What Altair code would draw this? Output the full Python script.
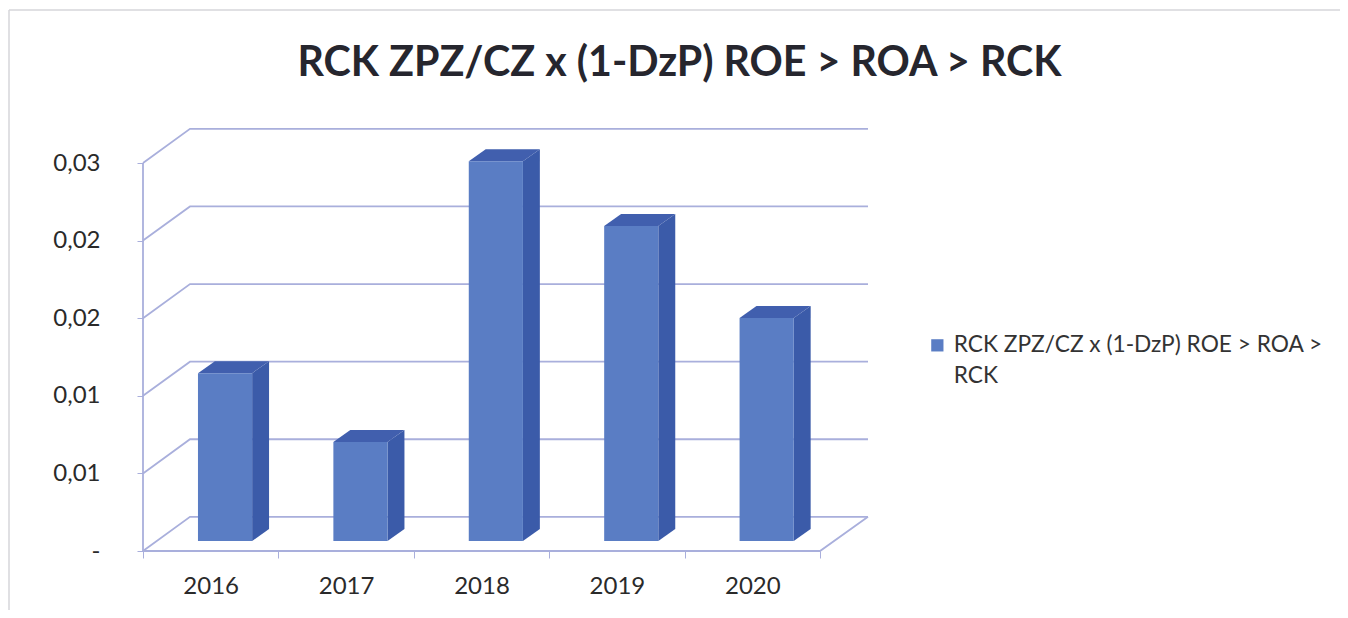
import altair as alt
import pandas as pd

YEARS = ["2016", "2017", "2018", "2019", "2020"]
VALUES = [0.01082, 0.00638, 0.02448, 0.0203, 0.01437]
TICKS = [0, 0.005, 0.01, 0.015, 0.02, 0.025]
TICK_LABELS = ["-\u00a0\u00a0\u00a0", "0,01", "0,01", "0,02", "0,02", "0,03"]
SERIES = "RCK ZPZ/CZ x (1-DzP) ROE > ROA > RCK"
LEGEND_LINES = ["RCK ZPZ/CZ x (1-DzP) ROE > ROA >", "RCK"]

FONT = "Lato"
GRID = "#a9afdc"
FRONT = "#5a7dc4"
SIDE = "#3b5ba9"
TOP = "#415fae"
XMAX = 725 / 135.4
YMAX = 423 / 77.6 * 0.005
DX, DY = 47 / 135.4, 0.0022        # depth of the chart box
BX, BY = 0.106, 0.00064            # where the bars stand on the floor
BW = 0.4                           # bar width
SX, SY = 0.125, 0.00077            # depth of a bar

xs = alt.Scale(domain=[0, XMAX], nice=False, zero=False)
ys = alt.Scale(domain=[0, YMAX], nice=False, zero=False)

# wall / floor lines
grid_rows = []
for k, t in enumerate(TICKS):
    grid_rows += [dict(g=k, x=0, y=t), dict(g=k, x=DX, y=t + DY), dict(g=k, x=XMAX, y=t + DY)]
grid_rows += [dict(g=90, x=0, y=0), dict(g=90, x=5, y=0), dict(g=90, x=XMAX, y=DY)]
grid_rows += [dict(g=91, x=0, y=0), dict(g=91, x=0, y=TICKS[-1])]
grid = pd.DataFrame(grid_rows)

front_rows, side_rows, top_rows = [], [], []
for i, (yr, v) in enumerate(zip(YEARS, VALUES)):
    x0 = i + 0.5 + BX - BW / 2
    x1 = x0 + BW
    y0 = BY
    y1 = BY + v
    front_rows.append(dict(year=yr, x=x0, x2=x1, y=y0, y2=y1, series=SERIES))
    side_rows += [dict(b=i, x=x1, y=y1, y2=y0), dict(b=i, x=x1 + SX, y=y1 + SY, y2=y0 + SY)]
    top_rows += [
        dict(b=i, x=x0, y=y1, y2=y1),
        dict(b=i, x=x0 + SX, y=y1, y2=y1 + SY),
        dict(b=i, x=x1, y=y1, y2=y1 + SY),
        dict(b=i, x=x1 + SX, y=y1 + SY, y2=y1 + SY),
    ]

year_js = "[" + ",".join(f"'{y}'" for y in YEARS) + "]"
tick_js = "[" + ",".join(f"'{t}'" for t in TICK_LABELS) + "]"
legend_js = "[" + ",".join(f"'{t}'" for t in LEGEND_LINES) + "]"

x_axis = alt.Axis(
    values=[0, 0.5, 1, 1.5, 2, 2.5, 3, 3.5, 4, 4.5, 5],
    labelExpr=f"datum.value % 1 == 0 ? '' : {year_js}[floor(datum.value)]",
    tickOpacity=alt.expr("datum.value % 1 == 0 ? 1 : 0"),
    tickColor=GRID, tickSize=7, domain=False, grid=False, title=None,
    labelFont=FONT, labelFontSize=24, labelColor="#2a2a2a", labelPadding=16,
    labelOverlap=False, labelFlush=False,
)
y_axis = alt.Axis(
    values=TICKS,
    labelExpr=f"{tick_js}[round(datum.value / 0.005)]",
    tickColor=GRID, tickSize=6, domain=False, grid=False, title=None,
    labelFont=FONT, labelFontSize=24, labelColor="#2a2a2a", labelPadding=37,
    labelOverlap=False,
)

grid_layer = alt.Chart(grid).mark_line(color=GRID, strokeWidth=1.8, clip=False).encode(
    x=alt.X("x:Q", scale=xs, axis=x_axis),
    y=alt.Y("y:Q", scale=ys, axis=y_axis),
    detail="g:N",
)
side_layer = alt.Chart(pd.DataFrame(side_rows)).mark_area(color=SIDE, interpolate="linear").encode(
    x=alt.X("x:Q", scale=xs), y=alt.Y("y:Q", scale=ys), y2="y2:Q", detail="b:N",
)
top_layer = alt.Chart(pd.DataFrame(top_rows)).mark_area(color=TOP, interpolate="linear").encode(
    x=alt.X("x:Q", scale=xs), y=alt.Y("y:Q", scale=ys), y2="y2:Q", detail="b:N",
)
front_layer = alt.Chart(pd.DataFrame(front_rows)).mark_rect().encode(
    x=alt.X("x:Q", scale=xs), x2="x2:Q",
    y=alt.Y("y:Q", scale=ys), y2="y2:Q",
    color=alt.Color(
        "series:N",
        scale=alt.Scale(domain=[SERIES], range=[FRONT]),
        legend=alt.Legend(
            orient="none", legendX=783, legendY=206, title=None,
            symbolType="square", symbolSize=150, symbolStrokeWidth=0,
            labelFont=FONT, labelFontSize=22.7, labelColor="#333333",
            labelLimit=500, labelExpr=legend_js, labelOffset=5,
        ),
    ),
)

def frame(**kw):
    return alt.Chart(pd.DataFrame({"a": [0]})).mark_rule(color="#d6d6da", strokeWidth=1.5).encode(**kw)

border = (
    frame(x=alt.value(-134), y=alt.value(-118), y2=alt.value(482))
    + frame(x=alt.value(-134), x2=alt.value(1197), y=alt.value(-118))
)

chart = (
    alt.layer(border, grid_layer, side_layer, top_layer, front_layer)
    .properties(
        width=725, height=423,
        autosize=alt.AutoSizeParams(type="none"),
        padding={"left": 135, "top": 120, "right": 472, "bottom": 59},
        title=alt.TitleParams(
            "RCK ZPZ/CZ x (1-DzP) ROE > ROA > RCK",
            font=FONT, fontSize=41.2, fontWeight="bold", color="#26262e",
            anchor="middle", dx=174, offset=-75,
        ),
    )
    .configure(view=alt.ViewConfig(stroke=None), style={"guide-label": {"lineHeight": 31}})
)
chart.save("out.html", embed_options={"renderer": "svg", "actions": False})
